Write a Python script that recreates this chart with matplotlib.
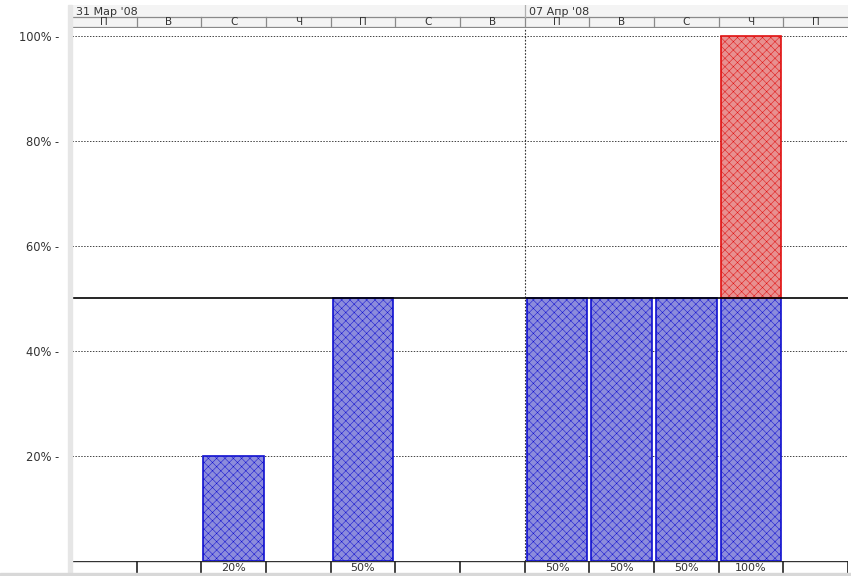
import numpy as np
import matplotlib.pyplot as plt
from matplotlib.patches import Rectangle

plt.rcParams['font.family'] = ['DejaVu Sans']
plt.rcParams['hatch.linewidth'] = 0.35

# data
days = ['П', 'В', 'С', 'Ч', 'П', 'С', 'В', 'П', 'В', 'С', 'Ч', 'П']
weeks = ["31 Мар '08", "07 Апр '08"]
week_start = [0, 7]
alloc = [0, 0, 20, 0, 50, 0, 0, 50, 50, 50, 100, 0]
available = 50
yticks = [20, 40, 60, 80, 100]

W, H = 851, 576
fig = plt.figure(figsize=(W / 100, H / 100), dpi=100)


def fax(x0, y0, x1, y1):
    # axes from pixel box (top-left origin)
    return fig.add_axes([x0 / W, 1 - y1 / H, (x1 - x0) / W, (y1 - y0) / H])


n = len(days)
x = np.arange(n)
alloc = np.array(alloc)
blue = np.minimum(alloc, available)
red = np.clip(alloc - available, 0, None)

# left gray strip
fig.patches.append(Rectangle((68 / W, 0), 4 / W, 1 - 5 / H, transform=fig.transFigure,
                             color='#e6e6e6', zorder=0))
# bottom gray strip
fig.patches.append(Rectangle((0, 0), 1, 3 / H, transform=fig.transFigure,
                             color='#d8d8d8', zorder=0))

# main plot
ax = fax(72, 28, 848, 561)
ax.set_xlim(-0.5, n - 0.5)
ax.set_ylim(0, 101.5)
m = blue > 0
ax.bar(x[m], blue[m], width=0.94, color='#8c8cdc', edgecolor='#1010d0', linewidth=1.2,
       hatch='xxxx', zorder=3)
m = red > 0
ax.bar(x[m], red[m], bottom=blue[m], width=0.94, color='#e89090', edgecolor='#e01010',
       linewidth=1.2, hatch='xxxx', zorder=3)
for yv in yticks:
    ax.axhline(yv, color='#444444', lw=0.7, ls=(0, (1.5, 1.5)), zorder=1)
ax.axhline(available, color='black', lw=1.2, zorder=4)
ax.axvline(6.5, color='#333333', lw=0.8, ls=(0, (1.5, 1.5)), zorder=1)
ax.set_xticks([])
ax.set_yticks(yticks)
ax.set_yticklabels([f'{v}% -' for v in yticks], fontsize=8.3, color='#333333')
ax.tick_params(axis='y', length=0, pad=9)
for s in ['top', 'right', 'bottom', 'left']:
    ax.spines[s].set_visible(False)

# header
hx = fax(72, 5, 848, 28)
hx.set_xlim(-0.5, n - 0.5)
hx.set_ylim(0, 2)
hx.axis('off')
hx.add_patch(Rectangle((-0.5, 0), n, 2, color='#f4f4f4', zorder=0))
hx.axhline(0.95, color='#8a8a8a', lw=0.9)
hx.axhline(0.05, color='#8a8a8a', lw=0.9)
for i in range(1, n):
    hx.plot([i - 0.5, i - 0.5], [0, 0.95], color='#8a8a8a', lw=0.9)
for s, lbl in zip(week_start, weeks):
    hx.text(s - 0.44, 1.42, lbl, fontsize=8, color='#333333', va='center')
    if s > 0:
        hx.plot([s - 0.5, s - 0.5], [0.95, 2], color='#b0b0b0', lw=0.9)
for i, d in enumerate(days):
    hx.text(i, 0.5, d, fontsize=7.5, color='#333333', ha='center', va='center')

# bottom value row
bx = fax(72, 561, 848, 573)
bx.set_xlim(-0.5, n - 0.5)
bx.set_ylim(0, 1)
bx.axis('off')
bx.axhline(1, color='#333333', lw=1)
for i in range(1, n + 1):
    bx.plot([i - 0.5, i - 0.5], [0, 1], color='#222222', lw=1.2)
for i, v in enumerate(alloc):
    if v > 0:
        bx.text(i, 0.45, f'{v}%', fontsize=8, color='#333333', ha='center', va='center')

fig.savefig('out.png', dpi=100)
